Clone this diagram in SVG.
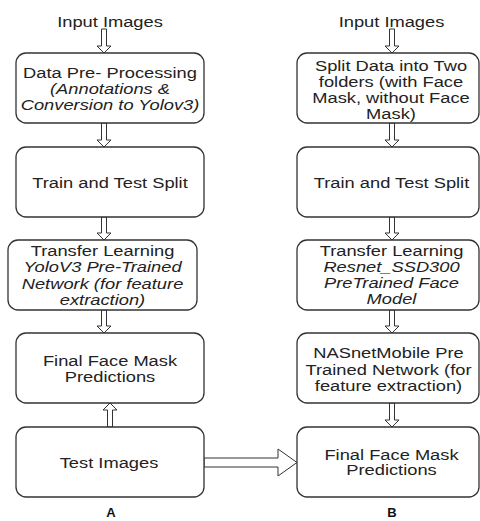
<svg xmlns="http://www.w3.org/2000/svg" width="480" height="521" viewBox="0 0 480 521">
<style>
.box{fill:#fff;stroke:#333;stroke-width:1.3}
.t{font-family:"Liberation Sans",Arial,sans-serif;font-size:15px;fill:#222;text-anchor:middle}
.i{font-style:italic}
.lbl{font-family:"Liberation Sans",Arial,sans-serif;font-size:13px;font-weight:bold;fill:#111;text-anchor:middle}
.arr{fill:#fff;stroke:#333;stroke-width:1}
</style>
<rect width="480" height="521" fill="#fff"/>
<g id="connectors">
<polygon class="arr" points="101.5,29 106.5,29 106.5,46 111,46 104,53 97,46 101.5,46"/>
<polygon class="arr" points="101.5,123 106.5,123 106.5,140 111,140 104,147 97,140 101.5,140"/>
<polygon class="arr" points="101.5,217 106.5,217 106.5,233 111,233 104,240 97,233 101.5,233"/>
<polygon class="arr" points="101.5,310 106.5,310 106.5,326 111,326 104,333 97,326 101.5,326"/>
<polygon class="arr" points="107.5,427 112.5,427 112.5,410 117,410 110,403 103,410 107.5,410"/>
<polygon class="arr" points="389.5,29 394.5,29 394.5,46 399,46 392,53 385,46 389.5,46"/>
<polygon class="arr" points="389.5,123 394.5,123 394.5,140 399,140 392,147 385,140 389.5,140"/>
<polygon class="arr" points="389.5,217 394.5,217 394.5,233 399,233 392,240 385,233 389.5,233"/>
<polygon class="arr" points="389.5,310 394.5,310 394.5,326 399,326 392,333 385,326 389.5,326"/>
<polygon class="arr" points="389.5,403 394.5,403 394.5,420 399,420 392,427 385,420 389.5,420"/>
<polygon class="arr" points="204,458 278,458 278,449 297,462.5 278,476 278,467 204,467"/>
</g>
<g id="inputA"><text class="t" transform="translate(110,0) scale(1.22,1)" x="0" y="27">Input Images</text></g>
<g id="inputB"><text class="t" transform="translate(391.5,0) scale(1.22,1)" x="0" y="27">Input Images</text></g>
<g id="a1"><rect class="box" x="16" y="53" width="188" height="70" rx="10"/>
<text class="t" transform="translate(110,0) scale(1.22,1)"><tspan x="0" y="78">Data Pre- Processing</tspan><tspan class="i" x="0" y="94">(Annotations &amp;</tspan><tspan class="i" x="0" y="110">Conversion to Yolov3)</tspan></text></g>
<g id="a2"><rect class="box" x="16" y="147" width="188" height="70" rx="10"/>
<text class="t" transform="translate(110,0) scale(1.22,1)" x="0" y="188">Train and Test Split</text></g>
<g id="a3"><rect class="box" x="8" y="240" width="189" height="70" rx="10"/>
<text class="t" transform="translate(102.5,0) scale(1.22,1)"><tspan x="0" y="256">Transfer Learning</tspan><tspan class="i" x="0" y="272.5">YoloV3 Pre-Trained</tspan><tspan class="i" x="0" y="289">Network (for feature</tspan><tspan class="i" x="0" y="305.5">extraction)</tspan></text></g>
<g id="a4"><rect class="box" x="16" y="333" width="188" height="70" rx="10"/>
<text class="t" transform="translate(110,0) scale(1.22,1)"><tspan x="0" y="366.5">Final Face Mask</tspan><tspan x="0" y="382">Predictions</tspan></text></g>
<g id="a5"><rect class="box" x="16" y="427" width="188" height="70" rx="10"/>
<text class="t" transform="translate(109,0) scale(1.22,1)" x="0" y="468">Test Images</text></g>
<g id="b1"><rect class="box" x="297" y="53" width="182" height="70" rx="10"/>
<text class="t" transform="translate(391,0) scale(1.22,1)"><tspan x="0" y="71">Split Data into Two</tspan><tspan x="0" y="87">folders (with Face</tspan><tspan x="0" y="103">Mask, without Face</tspan><tspan x="0" y="119">Mask)</tspan></text></g>
<g id="b2"><rect class="box" x="297" y="147" width="182" height="70" rx="10"/>
<text class="t" transform="translate(391.5,0) scale(1.22,1)" x="0" y="188">Train and Test Split</text></g>
<g id="b3"><rect class="box" x="297" y="240" width="182" height="70" rx="10"/>
<text class="t" transform="translate(391.5,0) scale(1.22,1)"><tspan x="0" y="256">Transfer Learning</tspan><tspan class="i" x="0" y="272">Resnet_SSD300</tspan><tspan class="i" x="0" y="288.5">PreTrained Face</tspan><tspan class="i" x="0" y="304.5">Model</tspan></text></g>
<g id="b4"><rect class="box" x="297" y="333" width="182" height="70" rx="10"/>
<text class="t" transform="translate(388.5,0) scale(1.22,1)"><tspan x="0" y="358.5">NASnetMobile Pre</tspan><tspan x="0" y="375">Trained Network (for</tspan><tspan x="0" y="391">feature extraction)</tspan></text></g>
<g id="b5"><rect class="box" x="297" y="427" width="182" height="70" rx="10"/>
<text class="t" transform="translate(391.5,0) scale(1.22,1)"><tspan x="0" y="460">Final Face Mask</tspan><tspan x="0" y="475.5">Predictions</tspan></text></g>
<g id="labelA"><text class="lbl" x="111" y="517">A</text></g>
<g id="labelB"><text class="lbl" x="392" y="517">B</text></g>
</svg>
